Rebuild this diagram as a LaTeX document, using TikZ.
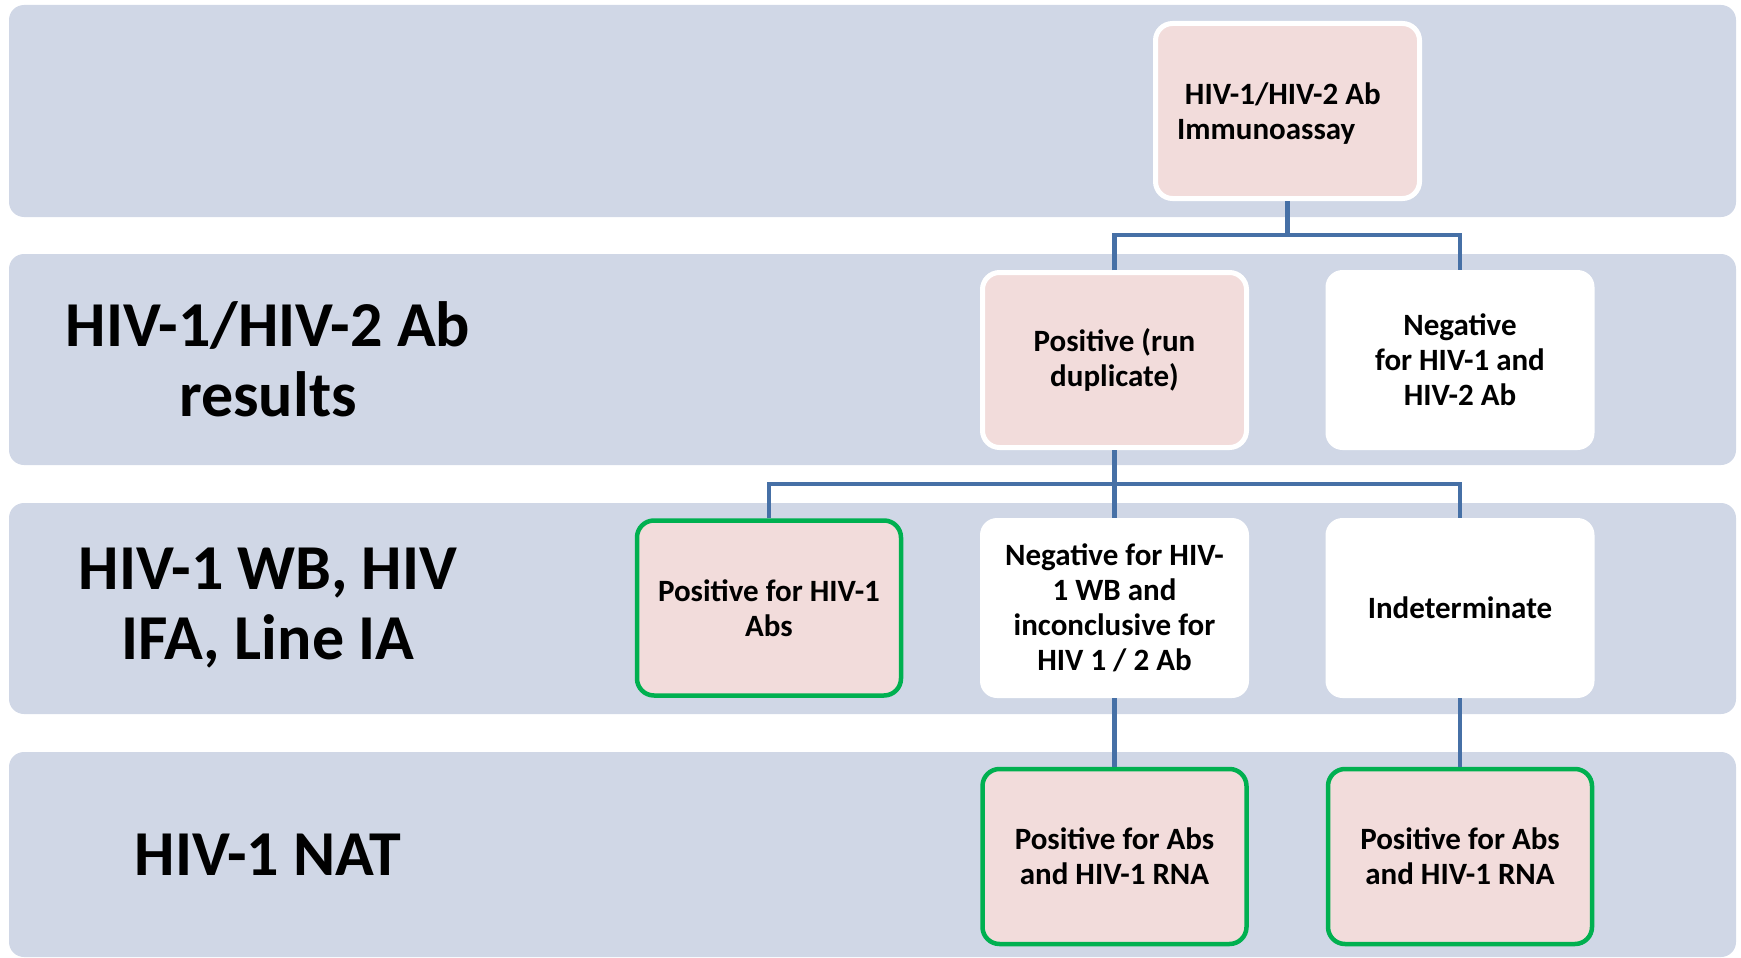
\documentclass[tikz,border=0pt]{standalone}
\usepackage{fontspec}
\setmainfont{Carlito}
\definecolor{bandc}{RGB}{208,215,230}
\definecolor{pinkc}{RGB}{242,220,219}
\definecolor{greenc}{RGB}{0,176,80}
\definecolor{linec}{RGB}{70,112,166}
\begin{document}
\begin{tikzpicture}[x=1pt,y=-1pt,
  band/.style={fill=bandc, rounded corners=15pt},
  boxbase/.style={rounded corners=17pt, align=center, inner sep=0pt,
     font=\fontsize{31}{35}\selectfont\bfseries, text=black},
  pinkbox/.style={boxbase, fill=pinkc, draw=white, line width=5pt,
     minimum width=264pt, minimum height=175pt},
  whitebox/.style={boxbase, fill=white, minimum width=269pt, minimum height=180pt},
  greenbox/.style={boxbase, fill=pinkc, draw=greenc, line width=4.5pt,
     minimum width=264pt, minimum height=175pt},
  lbl/.style={align=center, font=\fontsize{64}{70}\selectfont\bfseries, text=black},
  conn/.style={draw=linec, line width=4.5pt}]
\useasboundingbox (0,0) rectangle (1741,958);
% bands
\path[band] (9,5) rectangle (1736,217);
\path[band] (9,254) rectangle (1736,465);
\path[band] (9,503) rectangle (1736,714);
\path[band] (9,752) rectangle (1736,957);
% left labels
\node[lbl] (l2) at (268,359) {HIV-1/HIV-2 Ab\\results};
\node[lbl] (l3) at (268,608) {HIV-1 WB, HIV\\IFA, Line IA};
\node[lbl] (l4) at (268,855) {HIV-1 NAT};
% junctions
\coordinate (j1) at (1287.5,235);
\coordinate (j2) at (1114.5,484);
% boxes
\node[pinkbox] (top) at (1287.5,111) {};
\node[boxbase, align=left] (toptxt) at (1279,114) {\hspace*{0.25em}HIV-1/HIV-2 Ab\\Immunoassay};
\node[pinkbox] (pos) at (1114.5,360) {Positive (run\\duplicate)};
\node[whitebox] (neg) at (1460,360) {Negative\\for HIV-1 and\\HIV-2 Ab};
\node[greenbox] (pos1) at (769,608) {Positive for HIV-1\\Abs};
\node[whitebox] (negwb) at (1114.5,608) {Negative for HIV-\\1 WB and\\inconclusive for\\HIV 1 / 2 Ab};
\node[whitebox] (ind) at (1460,608) {Indeterminate};
\node[greenbox] (nat1) at (1114.5,856.5) {Positive for Abs\\and HIV-1 RNA};
\node[greenbox] (nat2) at (1460,856.5) {Positive for Abs\\and HIV-1 RNA};
% connectors
\draw[conn] (top.south) -- (j1);
\draw[conn] (pos.north) |- (j1) -| (neg.north);
\draw[conn] (pos.south) -- (j2);
\draw[conn] (pos1.north) |- (j2) -| (ind.north);
\draw[conn] (j2) -- (negwb.north);
\draw[conn] (negwb.south) -- (nat1.north);
\draw[conn] (ind.south) -- (nat2.north);
\end{tikzpicture}
\end{document}
